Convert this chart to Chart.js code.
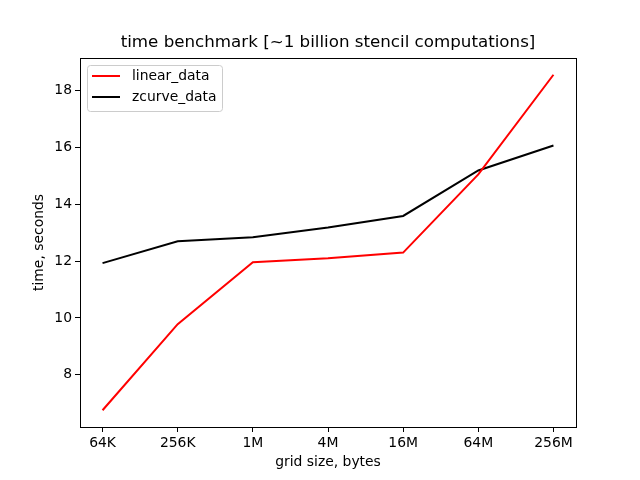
<!DOCTYPE html>
<html>
<head>
<meta charset="utf-8">
<script src="https://cdn.jsdelivr.net/npm/chart.js@4/dist/chart.umd.min.js"></script>
<style>
  html, body { margin: 0; padding: 0; background: #fff; }
  #wrap { width: 640px; height: 480px; }
</style>
</head>
<body>
<div id="wrap"><canvas id="c" width="640" height="480"></canvas></div>
<script>
const categories = ["64K", "256K", "1M", "4M", "16M", "64M", "256M"];
const linearData = [6.75, 9.78, 11.96, 12.1, 12.3, 15.05, 18.56];
const zcurveData = [11.93, 12.7, 12.84, 13.18, 13.59, 15.19, 16.07];
const yTicks = [8, 10, 12, 14, 16, 18];
const titleText = 'time benchmark [~1 billion stencil computations]';
const xTitle = 'grid size, bytes';
const yTitle = 'time, seconds';

const FONT = "'DejaVu Sans', sans-serif";

const framePlugin = {
  id: 'frame',
  afterDatasetsDraw(chart) {
    const a = chart.chartArea, ctx = chart.ctx;
    ctx.save();
    ctx.strokeStyle = '#000';
    ctx.lineWidth = 1;
    ctx.strokeRect(Math.round(a.left) + 0.5, Math.round(a.top) + 0.5,
                   Math.round(a.right - a.left), Math.round(a.bottom - a.top));
    // title
    ctx.fillStyle = '#000';
    ctx.textAlign = 'center';
    ctx.textBaseline = 'middle';
    ctx.font = "16.7px " + FONT;
    ctx.fillText(titleText, (a.left + a.right) / 2, 43);
    // axis titles
    ctx.font = "13.9px " + FONT;
    ctx.fillText(xTitle, (a.left + a.right) / 2, 462);
    ctx.save();
    ctx.translate(39, (a.top + a.bottom) / 2);
    ctx.rotate(-Math.PI / 2);
    ctx.fillText(yTitle, 0, 0);
    ctx.restore();
    // legend
    ctx.textAlign = 'left';
    const ds = chart.data.datasets;
    const x0 = a.left + 7, y0 = a.top + 7, w = 135, h = 46;
    ctx.fillStyle = 'rgba(255,255,255,0.8)';
    ctx.strokeStyle = '#cccccc';
    ctx.lineWidth = 1;
    ctx.beginPath();
    if (ctx.roundRect) ctx.roundRect(x0 + 0.5, y0 + 0.5, w, h, 3); else ctx.rect(x0 + 0.5, y0 + 0.5, w, h);
    ctx.fill(); ctx.stroke();
    ctx.font = "13.9px " + FONT;
    ctx.textBaseline = 'middle';
    ds.forEach((d, i) => {
      const yy = y0 + 11 + i * 21;
      ctx.strokeStyle = d.borderColor;
      ctx.lineWidth = 2;
      ctx.beginPath();
      ctx.moveTo(x0 + 5, yy); ctx.lineTo(x0 + 33, yy);
      ctx.stroke();
      ctx.fillStyle = '#000';
      ctx.fillText(d.label, x0 + 45, yy);
    });
    ctx.restore();
  }
};

new Chart(document.getElementById('c'), {
  type: 'line',
  data: {
    datasets: [
      { label: 'linear_data', data: linearData.map((v, i) => ({x: i, y: v})),
        borderColor: '#ff0000', backgroundColor: '#ff0000', borderWidth: 2, pointRadius: 0, tension: 0 },
      { label: 'zcurve_data', data: zcurveData.map((v, i) => ({x: i, y: v})),
        borderColor: '#000000', backgroundColor: '#000000', borderWidth: 2, pointRadius: 0, tension: 0 }
    ]
  },
  plugins: [framePlugin],
  options: {
    responsive: false,
    animation: false,
    layout: { padding: { left: 0, right: 64, top: 58, bottom: 0 } },
    plugins: {
      legend: { display: false },
      tooltip: { enabled: false },
      title: { display: false }
    },
    scales: {
      x: {
        type: 'linear',
        min: -0.3, max: 6.3,
        afterBuildTicks(s) { s.ticks = categories.map((c, i) => ({ value: i })); },
        afterFit(s) { s.height = 53; },
        ticks: {
          color: '#000', font: { family: FONT, size: 13.9 }, padding: 3, maxRotation: 0,
          callback: (v) => categories[v]
        },
        grid: { drawOnChartArea: false, drawTicks: true, tickLength: 5, color: '#000' },
        border: { display: true, color: '#000' }
      },
      y: {
        type: 'linear',
        min: 6.16, max: 19.15,
        afterBuildTicks(s) { s.ticks = yTicks.map(v => ({ value: v })); },
        afterFit(s) { s.width = 80; },
        ticks: { color: '#000', font: { family: FONT, size: 13.9 }, padding: 3 },
        grid: { drawOnChartArea: false, drawTicks: true, tickLength: 5, color: '#000' },
        border: { display: true, color: '#000' }
      }
    }
  }
});
</script>
</body>
</html>
